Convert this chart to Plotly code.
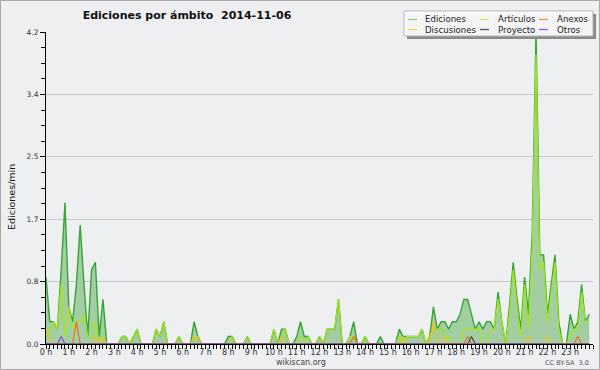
import plotly.graph_objects as go

# ---------------- data (edits per minute, 10-minute slots) ----------------
hour_ticks = list(range(24))
hour_labels = [f"{h} h" for h in hour_ticks]
slot_hours = [i / 6 for i in range(144)]

ediciones = [
    0.9, 0.3, 0.3, 0.2, 1.0, 1.9,   # 0 h
    0.5, 0.3, 0.8, 1.6, 0.8, 0.1,   # 1 h
    1.0, 1.1, 0.1, 0.6, 0.0, 0.0,   # 2 h
    0.0, 0.0, 0.1, 0.1, 0.0, 0.1,   # 3 h
    0.2, 0.0, 0.0, 0.0, 0.0, 0.2,   # 4 h
    0.1, 0.3, 0.0, 0.0, 0.0, 0.1,   # 5 h
    0.0, 0.0, 0.0, 0.3, 0.1, 0.0,   # 6 h
    0.0, 0.0, 0.0, 0.0, 0.0, 0.0,   # 7 h
    0.1, 0.1, 0.0, 0.0, 0.0, 0.1,   # 8 h
    0.0, 0.0, 0.0, 0.0, 0.0, 0.0,   # 9 h
    0.2, 0.0, 0.2, 0.2, 0.0, 0.0,   # 10 h
    0.1, 0.3, 0.1, 0.1, 0.0, 0.0,   # 11 h
    0.1, 0.0, 0.2, 0.2, 0.2, 0.6,   # 12 h
    0.0, 0.0, 0.1, 0.3, 0.0, 0.0,   # 13 h
    0.1, 0.0, 0.0, 0.0, 0.1, 0.0,   # 14 h
    0.0, 0.0, 0.0, 0.2, 0.1, 0.1,   # 15 h
    0.1, 0.1, 0.1, 0.2, 0.0, 0.1,   # 16 h
    0.5, 0.2, 0.3, 0.3, 0.2, 0.3,   # 17 h
    0.3, 0.4, 0.6, 0.6, 0.4, 0.2,   # 18 h
    0.3, 0.2, 0.3, 0.3, 0.2, 0.7,   # 19 h
    0.3, 0.0, 0.5, 1.1, 0.6, 0.2,   # 20 h
    0.9, 0.4, 1.5, 4.2, 1.2, 1.2,   # 21 h
    0.4, 0.8, 1.2, 0.3, 0.0, 0.0,   # 22 h
    0.4, 0.2, 0.3, 0.8, 0.3, 0.4,   # 23 h
]

articulos = [
    0.1, 0.2, 0.3, 0.2, 0.8, 0.1,   # 0 h
    0.5, 0.2, 0.3, 0.3, 0.4, 0.1,   # 1 h
    0.1, 0.3, 0.0, 0.1, 0.0, 0.0,   # 2 h
    0.0, 0.0, 0.1, 0.1, 0.0, 0.1,   # 3 h
    0.2, 0.0, 0.0, 0.0, 0.0, 0.2,   # 4 h
    0.1, 0.3, 0.0, 0.0, 0.0, 0.1,   # 5 h
    0.0, 0.0, 0.0, 0.1, 0.0, 0.0,   # 6 h
    0.0, 0.0, 0.0, 0.0, 0.0, 0.0,   # 7 h
    0.0, 0.1, 0.0, 0.0, 0.0, 0.1,   # 8 h
    0.0, 0.0, 0.0, 0.0, 0.0, 0.0,   # 9 h
    0.2, 0.0, 0.1, 0.2, 0.0, 0.0,   # 10 h
    0.0, 0.1, 0.0, 0.1, 0.0, 0.0,   # 11 h
    0.1, 0.0, 0.2, 0.2, 0.2, 0.6,   # 12 h
    0.0, 0.0, 0.1, 0.1, 0.0, 0.0,   # 13 h
    0.1, 0.0, 0.0, 0.0, 0.0, 0.0,   # 14 h
    0.0, 0.0, 0.0, 0.1, 0.0, 0.1,   # 15 h
    0.1, 0.1, 0.1, 0.2, 0.0, 0.1,   # 16 h
    0.2, 0.2, 0.2, 0.1, 0.1, 0.0,   # 17 h
    0.0, 0.0, 0.2, 0.2, 0.2, 0.2,   # 18 h
    0.2, 0.0, 0.0, 0.2, 0.2, 0.6,   # 19 h
    0.3, 0.0, 0.4, 1.0, 0.5, 0.1,   # 20 h
    0.8, 0.2, 1.3, 3.9, 1.0, 1.1,   # 21 h
    0.3, 0.7, 1.1, 0.2, 0.0, 0.0,   # 22 h
    0.1, 0.2, 0.2, 0.7, 0.3, 0.3,   # 23 h
]

# sparse series: value per "HH:MM" slot, all other slots are 0
discusiones_slots = {"00:00": 0.2, "00:10": 0.1, "02:10": 0.1, "02:30": 0.1,
                     "06:30": 0.1, "06:40": 0.1, "10:20": 0.1, "15:40": 0.1,
                     "17:00": 0.3, "17:30": 0.1, "21:10": 0.1, "22:00": 0.1}
anexos_slots = {"01:20": 0.3, "13:30": 0.1, "18:30": 0.1, "23:20": 0.1}
proyecto_slots = {"18:40": 0.1}
otros_slots = {"00:40": 0.1}

y_tick_values = [0, 0.84, 1.68, 2.52, 3.36, 4.2]
y_tick_labels = ["0.0", "0.8", "1.7", "2.5", "3.4", "4.2"]


def expand(slots):
    out = [0.0] * len(slot_hours)
    for key, val in slots.items():
        h, m = key.split(":")
        out[int(h) * 6 + int(m) // 10] = val
    return out


discusiones = expand(discusiones_slots)
anexos = expand(anexos_slots)
proyecto = expand(proyecto_slots)
otros = expand(otros_slots)

# ---------------- figure ----------------
W, H = 600, 370
ML, MR, MT, MB = 46, 7, 32, 26
PW, PH = W - ML - MR, H - MT - MB
BG = "#eeeff0"
FONT = "DejaVu Sans"


def px(x):
    return (x - ML) / PW


def py(y):
    return (H - MB - y) / PH


fig = go.Figure()
fig.add_trace(go.Scatter(x=slot_hours, y=ediciones, mode="lines", name="Ediciones",
                         line=dict(color="#35a535", width=1.4), fill="tozeroy",
                         fillcolor="#a2cea2"))
fig.add_trace(go.Scatter(x=slot_hours, y=articulos, mode="lines", name="Artículos",
                         line=dict(color="#a6e619", width=1.2)))
fig.add_trace(go.Scatter(x=slot_hours, y=discusiones, mode="lines", name="Discusiones",
                         line=dict(color="#f2c419", width=1.1)))
fig.add_trace(go.Scatter(x=slot_hours, y=anexos, mode="lines", name="Anexos",
                         line=dict(color="#f26a1b", width=1.1)))
fig.add_trace(go.Scatter(x=slot_hours, y=proyecto, mode="lines", name="Proyecto",
                         line=dict(color="#444444", width=1.1)))
fig.add_trace(go.Scatter(x=slot_hours, y=otros, mode="lines", name="Otros",
                         line=dict(color="#8a3cf0", width=1.1)))

shapes = []
annotations = []

# manual legend box (with shadow)
lx0, ly0, lx1, ly1 = 404, 11, 593, 36
shapes.append(dict(type="rect", xref="paper", yref="paper", layer="above",
                   x0=px(lx0 + 3), x1=px(lx1 + 3), y0=py(ly0 + 3), y1=py(ly1 + 3),
                   fillcolor="#8a8a8a", line=dict(width=0)))
shapes.append(dict(type="rect", xref="paper", yref="paper", layer="above",
                   x0=px(lx0), x1=px(lx1), y0=py(ly0), y1=py(ly1),
                   fillcolor="rgba(252,252,252,0.93)", line=dict(color="#b5b5b5", width=1)))
legend_items = [("Ediciones", "#8fd18f", 408, 423, 19.5),
                ("Artículos", "#cdee6a", 480, 496, 19.5),
                ("Anexos", "#f58a55", 539, 555, 19.5),
                ("Discusiones", "#f7d455", 408, 423, 29.5),
                ("Proyecto", "#555555", 480, 496, 29.5),
                ("Otros", "#9a55f0", 539, 555, 29.5)]
for label, col, sx, tx, ty in legend_items:
    shapes.append(dict(type="line", xref="paper", yref="paper", layer="above",
                       x0=px(sx), x1=px(sx + 9), y0=py(ty), y1=py(ty),
                       line=dict(color=col, width=1.3)))
    annotations.append(dict(text=label, xref="paper", yref="paper", x=px(tx), y=py(ty),
                            xanchor="left", yanchor="middle", showarrow=False,
                            font=dict(family=FONT, size=8.6, color="#222")))

# image border
shapes.append(dict(type="rect", xref="paper", yref="paper", layer="above",
                   x0=px(0.5), x1=px(W - 0.5), y0=py(0.5), y1=py(H - 0.5),
                   line=dict(color="#a8a8a8", width=1)))

# y title, footer texts
annotations.append(dict(text="Ediciones/min", xref="paper", yref="paper",
                        x=px(11), y=py(197), textangle=-90, showarrow=False,
                        xanchor="center", yanchor="middle",
                        font=dict(family=FONT, size=9.5, color="#111")))
annotations.append(dict(text="wikiscan.org", xref="paper", yref="paper",
                        x=px(301), y=py(362), showarrow=False,
                        xanchor="center", yanchor="middle",
                        font=dict(family=FONT, size=8, color="#444")))
annotations.append(dict(text="CC BY-SA  3.0", xref="paper", yref="paper",
                        x=px(591), y=py(363), showarrow=False,
                        xanchor="right", yanchor="middle",
                        font=dict(family=FONT, size=6.5, color="#555")))

fig.update_layout(
    width=W, height=H,
    margin=dict(l=ML, r=MR, t=MT, b=MB, pad=0),
    paper_bgcolor=BG, plot_bgcolor=BG,
    showlegend=False,
    title=dict(text="<b>Ediciones por ámbito  2014-11-06</b>", xref="container",
               x=187 / W, xanchor="center", yref="container", y=1 - 15 / H,
               yanchor="middle", font=dict(family=FONT, size=11, color="#111")),
    xaxis=dict(range=[0, 24], tickmode="array", tickvals=hour_ticks, ticktext=hour_labels,
               showgrid=False, zeroline=False, showline=True, linecolor="#000", linewidth=1,
               ticks="outside", ticklen=4, tickcolor="#000", tickwidth=1,
               ticklabelstandoff=-4,
               tickfont=dict(family=FONT, size=8, color="#333"),
               minor=dict(dtick=1 / 6, tick0=0, ticks="outside", ticklen=4,
                          tickcolor="#000", tickwidth=1, showgrid=False)),
    yaxis=dict(range=[0, 4.2], tickmode="array", tickvals=y_tick_values, ticktext=y_tick_labels,
               showgrid=True, gridcolor="#c9c9c9", gridwidth=1, zeroline=False,
               showline=True, linecolor="#000", linewidth=1,
               ticks="outside", ticklen=5, tickcolor="#000", tickwidth=1,
               tickfont=dict(family=FONT, size=7.5, color="#333"),
               minor=dict(dtick=0.21, tick0=0, ticks="outside", ticklen=4,
                          tickcolor="#000", tickwidth=1, showgrid=False)),
    shapes=shapes,
    annotations=annotations,
)

fig.write_html("out.html", config={"displayModeBar": False},
               post_script="document.body.style.margin='0';document.body.style.padding='0';")
